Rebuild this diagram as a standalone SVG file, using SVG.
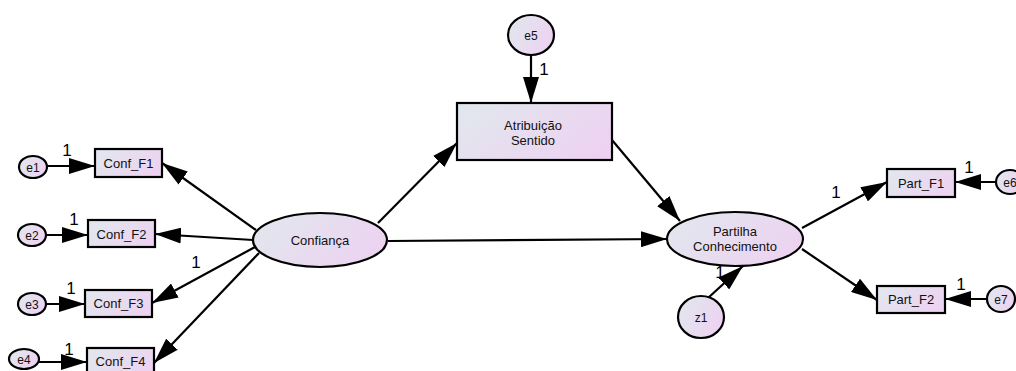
<svg xmlns="http://www.w3.org/2000/svg" width="1016" height="371" viewBox="0 0 1016 371">
<defs>
<linearGradient id="g" x1="0" y1="0.3" x2="1" y2="0.7">
<stop offset="0" stop-color="#e2e6ee"/>
<stop offset="1" stop-color="#edd2f1"/>
</linearGradient>
<marker id="ah" viewBox="0 0 26 16" markerWidth="26" markerHeight="16" refX="26" refY="8" orient="auto" markerUnits="userSpaceOnUse">
<path d="M0,0 L26,8 L0,16 z" fill="#000"/>
</marker>
<style>
.n{fill:url(#g);stroke:#000;stroke-width:2.2}
.t{font-family:"Liberation Sans",Arial,sans-serif;font-size:13px;fill:#111;text-anchor:middle}
.s{font-family:"Liberation Sans",Arial,sans-serif;font-size:12px;fill:#111;text-anchor:middle}
.one{font-family:"Liberation Sans",Arial,sans-serif;font-size:17px;fill:#000;text-anchor:middle}
.c line{stroke:#000;stroke-width:2.2;marker-end:url(#ah)}
</style>
</defs>
<rect width="1016" height="371" fill="#fff"/>
<g class="c" id="connectors">
<line x1="47" y1="166" x2="95" y2="166"/>
<line x1="46" y1="235" x2="88" y2="235"/>
<line x1="46" y1="304" x2="85" y2="304"/>
<line x1="38" y1="362" x2="87" y2="362"/>
<line x1="256" y1="230" x2="162" y2="163"/>
<line x1="253" y1="240" x2="155" y2="234"/>
<line x1="255" y1="247" x2="152" y2="303"/>
<line x1="259" y1="253" x2="154" y2="363"/>
<line x1="378" y1="223" x2="457" y2="143"/>
<line x1="388" y1="241" x2="667" y2="239"/>
<line x1="612" y1="140" x2="680" y2="221"/>
<line x1="531" y1="55" x2="531" y2="103"/>
<line x1="708" y1="298" x2="743" y2="266"/>
<line x1="802" y1="228" x2="887" y2="182"/>
<line x1="802" y1="249" x2="877" y2="300"/>
<line x1="996" y1="182" x2="955" y2="182"/>
<line x1="987" y1="299" x2="945" y2="299"/>
</g>
<g id="labels">
<text class="one" x="67" y="156">1</text>
<text class="one" x="74" y="225">1</text>
<text class="one" x="71" y="294">1</text>
<text class="one" x="69" y="355">1</text>
<text class="one" x="196" y="268">1</text>
<text class="one" x="544" y="75">1</text>
<text class="one" x="720" y="278">1</text>
<text class="one" x="836" y="198">1</text>
<text class="one" x="969" y="173">1</text>
<text class="one" x="961" y="290">1</text>
</g>
<g id="e1"><ellipse class="n" cx="33" cy="167" rx="14" ry="11"/><text class="s" x="33" y="171.5">e1</text></g>
<g id="e2"><ellipse class="n" cx="32" cy="235" rx="14" ry="11"/><text class="s" x="32" y="239.5">e2</text></g>
<g id="e3"><ellipse class="n" cx="32" cy="304" rx="14" ry="11"/><text class="s" x="32" y="308.5">e3</text></g>
<g id="e4"><ellipse class="n" cx="24" cy="359" rx="15" ry="10"/><text class="s" x="24" y="363.5">e4</text></g>
<g id="Conf_F1"><rect class="n" x="95" y="149" width="67" height="28"/><text class="t" x="128.5" y="167.5">Conf_F1</text></g>
<g id="Conf_F2"><rect class="n" x="88" y="220" width="67" height="27"/><text class="t" x="121.5" y="238.5">Conf_F2</text></g>
<g id="Conf_F3"><rect class="n" x="85" y="290" width="67" height="27"/><text class="t" x="118.5" y="308">Conf_F3</text></g>
<g id="Conf_F4"><rect class="n" x="87" y="348" width="67" height="27"/><text class="t" x="120.5" y="366">Conf_F4</text></g>
<g id="Confianca"><ellipse class="n" cx="320" cy="240" rx="67" ry="27"/><text class="t" x="320" y="245">Confiança</text></g>
<g id="e5"><ellipse class="n" cx="531" cy="35" rx="23" ry="20"/><text class="s" x="531" y="39.5">e5</text></g>
<g id="Atribuicao"><rect class="n" x="457" y="103" width="155" height="57"/><text class="t" x="533" y="130">Atribuição</text><text class="t" x="533" y="145">Sentido</text></g>
<g id="Partilha"><ellipse class="n" cx="735" cy="239" rx="68" ry="27"/><text class="t" x="735" y="236">Partilha</text><text class="t" x="735" y="251">Conhecimento</text></g>
<g id="z1"><ellipse class="n" cx="701" cy="317" rx="23" ry="21"/><text class="s" x="701" y="321.5">z1</text></g>
<g id="Part_F1"><rect class="n" x="887" y="169" width="68" height="28"/><text class="t" x="921" y="187.5">Part_F1</text></g>
<g id="e6"><ellipse class="n" cx="1010" cy="182" rx="14" ry="12"/><text class="s" x="1010" y="186.5">e6</text></g>
<g id="Part_F2"><rect class="n" x="877" y="286" width="68" height="27"/><text class="t" x="911" y="304">Part_F2</text></g>
<g id="e7"><ellipse class="n" cx="1001" cy="299" rx="14" ry="13"/><text class="s" x="1001" y="303.5">e7</text></g>
</svg>
